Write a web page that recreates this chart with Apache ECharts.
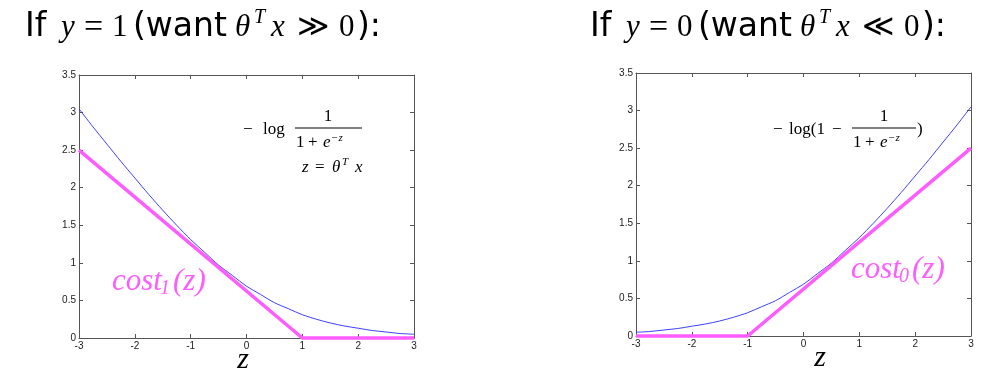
<!DOCTYPE html>
<html><head><meta charset="utf-8">
<script src="https://cdn.jsdelivr.net/npm/echarts@6/dist/echarts.min.js"></script>
<style>html,body{margin:0;padding:0;background:#fff}#c{width:1003px;height:373px}</style>
</head><body><div id="c"></div>
<script>
// ---- data ----
const zVals = [-3,-2.75,-2.5,-2.25,-2,-1.75,-1.5,-1.25,-1,-0.75,-0.5,-0.25,0,0.25,0.5,0.75,1,1.25,1.5,1.75,2,2.25,2.5,2.75,3];
const lossPos = [3.05,2.81,2.58,2.35,2.13,1.91,1.70,1.50,1.31,1.14,0.97,0.83,0.69,0.58,0.47,0.39,0.31,0.25,0.20,0.16,0.13,0.10,0.08,0.06,0.05];
const lossNeg = [0.05,0.06,0.08,0.10,0.13,0.16,0.20,0.25,0.31,0.39,0.47,0.58,0.69,0.83,0.97,1.14,1.31,1.50,1.70,1.91,2.13,2.35,2.58,2.81,3.05];
const cost1Z = [-3, 1, 3];
const cost1Vals = [2.5, 0, 0];
const cost0Z = [-3, -1, 3];
const cost0Vals = [0, 0, 2.5];
const xTickLabels = ['-3','-2','-1','0','1','2','3'];
const yTickLabels = ['0','0.5','1','1.5','2','2.5','3','3.5'];

const pairs = (xs, ys) => xs.map((x, i) => [x, ys[i]]);

const AX = '#555';
const labelStyle = {color:'#1a1a1a', fontSize:10, fontFamily:'Liberation Sans, Arial, sans-serif'};
function xAx(g, pos, show){
  return {type:'value', gridIndex:g, position:pos, min:-3, max:3, interval:1,
    axisLine:{show:true, onZero:false, lineStyle:{color:AX, width:1}},
    axisTick:{show:true, inside:true, length:4, lineStyle:{color:AX}},
    axisLabel:{show:show, margin:3, ...labelStyle, formatter:v=>xTickLabels[Math.round(v)+3]},
    splitLine:{show:false}};
}
function yAx(g, pos, show){
  return {type:'value', gridIndex:g, position:pos, min:0, max:3.5, interval:0.5,
    axisLine:{show:true, onZero:false, lineStyle:{color:AX, width:1}},
    axisTick:{show:true, inside:true, length:4, lineStyle:{color:AX}},
    axisLabel:{show:show, margin:3, ...labelStyle, formatter:v=>yTickLabels[Math.round(v*2)]},
    splitLine:{show:false}};
}

const SERIF = 'Liberation Serif, DejaVu Serif, serif';
const SANS = 'DejaVu Sans, Verdana, sans-serif';
function T(x, y, text, size, opts){
  opts = opts || {};
  return {type:'text', x:x, y:y, z:100, style:{text:text, fontSize:size,
    fontFamily:opts.family||SERIF, fontStyle:opts.italic?'italic':'normal',
    fontWeight:opts.bold?'bold':'normal',
    fill:opts.color||'#000', align:opts.align||'left', verticalAlign:opts.va||'middle'}};
}
function title(o, yVal, rel){
  const cy = 27;
  return [
    T(o+25, cy, 'If', 33, {family:SANS}),
    T(o+61, cy+1, 'y', 31, {italic:true}),
    T(o+84, cy+1, '=', 34),
    T(o+112, cy+1, yVal, 31),
    T(o+133, cy, '(want', 33, {family:SANS}),
    T(o+235, cy+1, 'θ', 31, {italic:true}),
    T(o+254, cy-9, 'T', 20, {italic:true}),
    T(o+271, cy+1, 'x', 31, {italic:true}),
    T(o+297, cy+1, rel, 31),
    T(o+339, cy+1, '0', 31),
    T(o+357, cy, '):', 33, {family:SANS})
  ];
}

const MAG = '#ff5cff';
const graphics = [].concat(
  title(0, '1', '≫'),
  title(565, '0', '≪'),
  [
    // left formula
    T(243, 130, '−', 17),
    T(263, 130, 'log', 17),
    T(328, 117, '1', 17, {align:'center'}),
    {type:'line', z:100, shape:{x1:295, y1:128, x2:362, y2:128}, style:{stroke:'#000', lineWidth:1}},
    T(296, 143, '1', 17),
    T(308, 143, '+', 17),
    T(323, 143, 'e', 17, {italic:true}),
    T(331, 138, '−z', 11, {italic:true}),
    T(302, 168, 'z', 17, {italic:true}),
    T(315, 168, '=', 17),
    T(332, 168, 'θ', 17, {italic:true}),
    T(342, 162, 'T', 11, {italic:true}),
    T(355, 168, 'x', 17, {italic:true}),
    // right formula
    T(773, 130, '−', 17),
    T(789, 130, 'log(1', 17),
    T(832, 130, '−', 17),
    T(884, 117, '1', 17, {align:'center'}),
    {type:'line', z:100, shape:{x1:852, y1:128, x2:916, y2:128}, style:{stroke:'#000', lineWidth:1}},
    T(853, 143, '1', 17),
    T(865, 143, '+', 17),
    T(880, 143, 'e', 17, {italic:true}),
    T(888, 138, '−z', 11, {italic:true}),
    T(917, 130, ')', 17),
    // z axis labels
    T(243, 360, 'z', 30, {italic:true, align:'center'}),
    T(820, 358, 'z', 30, {italic:true, align:'center'}),
    // cost labels
    T(112, 282, 'cost', 31, {italic:true, color:MAG}),
    T(160, 289, '1', 20, {italic:true, color:MAG}),
    T(173, 282, '(z)', 31, {italic:true, color:MAG}),
    T(851, 270, 'cost', 31, {italic:true, color:MAG}),
    T(899, 277, '0', 20, {italic:true, color:MAG}),
    T(912, 270, '(z)', 31, {italic:true, color:MAG})
  ]
);

const chart = echarts.init(document.getElementById('c'), null, {renderer:'canvas'});
chart.setOption({
  animation:false,
  backgroundColor:'#fff',
  grid:[
    {left:79, top:75, right:589, bottom:35},
    {left:636, top:73, right:32, bottom:37}
  ],
  xAxis:[xAx(0,'bottom',true), xAx(0,'top',false), xAx(1,'bottom',true), xAx(1,'top',false)],
  yAxis:[yAx(0,'left',true), yAx(0,'right',false), yAx(1,'left',true), yAx(1,'right',false)],
  series:[
    {type:'line', xAxisIndex:0, yAxisIndex:0, data:pairs(zVals, lossPos), smooth:0.3, symbol:'none', clip:false,
      lineStyle:{color:'#2a2aff', width:0.9}, z:3},
    {type:'line', xAxisIndex:0, yAxisIndex:0, data:pairs(cost1Z, cost1Vals), symbol:'none', clip:false,
      lineStyle:{color:MAG, width:3.5}, z:4},
    {type:'line', xAxisIndex:2, yAxisIndex:2, data:pairs(zVals, lossNeg), smooth:0.3, symbol:'none', clip:false,
      lineStyle:{color:'#2a2aff', width:0.9}, z:3},
    {type:'line', xAxisIndex:2, yAxisIndex:2, data:pairs(cost0Z, cost0Vals), symbol:'none', clip:false,
      lineStyle:{color:MAG, width:3.5}, z:4}
  ],
  graphic:graphics
});
</script></body></html>
